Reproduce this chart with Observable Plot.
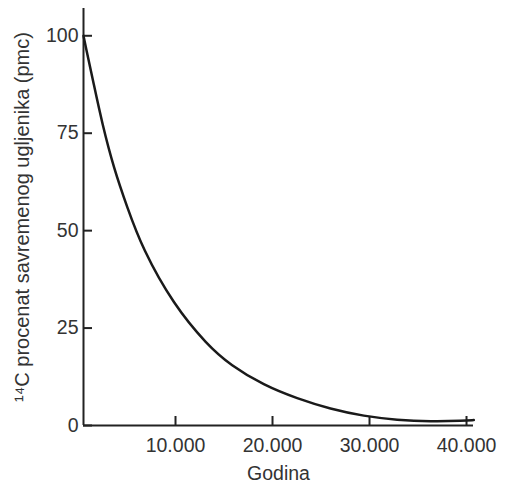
<!DOCTYPE html>
<html>
<head>
<meta charset="utf-8">
<script src="https://cdn.jsdelivr.net/npm/d3@7"></script>
<script src="https://cdn.jsdelivr.net/npm/@observablehq/plot@0.6"></script>
<style>
  html, body { margin: 0; padding: 0; background: #fff; }
  #chart svg { display: block; }
</style>
</head>
<body>
<div id="chart"></div>
<script>
// Curve points
const years = [515, 720, 1580, 2440, 3640, 5020, 6570, 9790, 13300, 15670, 19100, 22550, 25980, 29410, 32860, 36290, 39720, 40750];
const pmc   = [100, 97.5, 87.5, 77.5, 66, 56, 45.5, 31, 20.6, 15.5, 10.3, 6.9, 4.2, 2.4, 1.4, 1.0, 1.2, 1.4];

const xTicks = [10000, 20000, 30000, 40000];
const xTickLabels = ["10.000", "20.000", "30.000", "40.000"];
const yTicks = [0, 25, 50, 75, 100];
const yTickLabels = ["0", "25", "50", "75", "100"];

const xLabel = "Godina";
const yLabel = "¹⁴C procenat savremenog ugljenika (pmc)";

const data = years.map((x, i) => ({x, y: pmc[i]}));
const xMin = 515, xMax = 40720, yMin = 0, yMax = 107;

const chart = Plot.plot({
  width: 507,
  height: 483,
  marginLeft: 83,
  marginRight: 34,
  marginTop: 8,
  marginBottom: 58,
  style: {fontFamily: "Liberation Sans, Arial, sans-serif", fontSize: "19.5px", color: "#333", background: "#fff"},
  x: {domain: [xMin, xMax]},
  y: {domain: [yMin, yMax]},
  marks: [
    Plot.axisX({ticks: xTicks, tickFormat: d => xTickLabels[xTicks.indexOf(d)], tickSize: -9, tickPadding: 22,
      stroke: "#222", strokeWidth: 2, label: null, fontSize: 19.5, fill: "#333"}),
    Plot.axisY({ticks: yTicks, tickFormat: d => yTickLabels[yTicks.indexOf(d)], tickSize: -9, tickPadding: 14,
      stroke: "#222", strokeWidth: 2, label: null, fontSize: 19.5, fill: "#333"}),
    Plot.ruleX([xMin], {stroke: "#222", strokeWidth: 2}),
    Plot.ruleY([yMin], {stroke: "#222", strokeWidth: 2}),
    Plot.line(data, {x: "x", y: "y", curve: "basis", stroke: "#1a1a1a", strokeWidth: 2.5}),
    Plot.text([xLabel], {frameAnchor: "bottom", dy: 54, text: d => d, fontSize: 19.5, fill: "#333"}),
    Plot.text([yLabel], {frameAnchor: "left", dx: -61, rotate: -90, textAnchor: "middle", text: d => d, fontSize: 20, fill: "#333"})
  ]
});
document.getElementById("chart").appendChild(chart);
</script>
</body>
</html>
